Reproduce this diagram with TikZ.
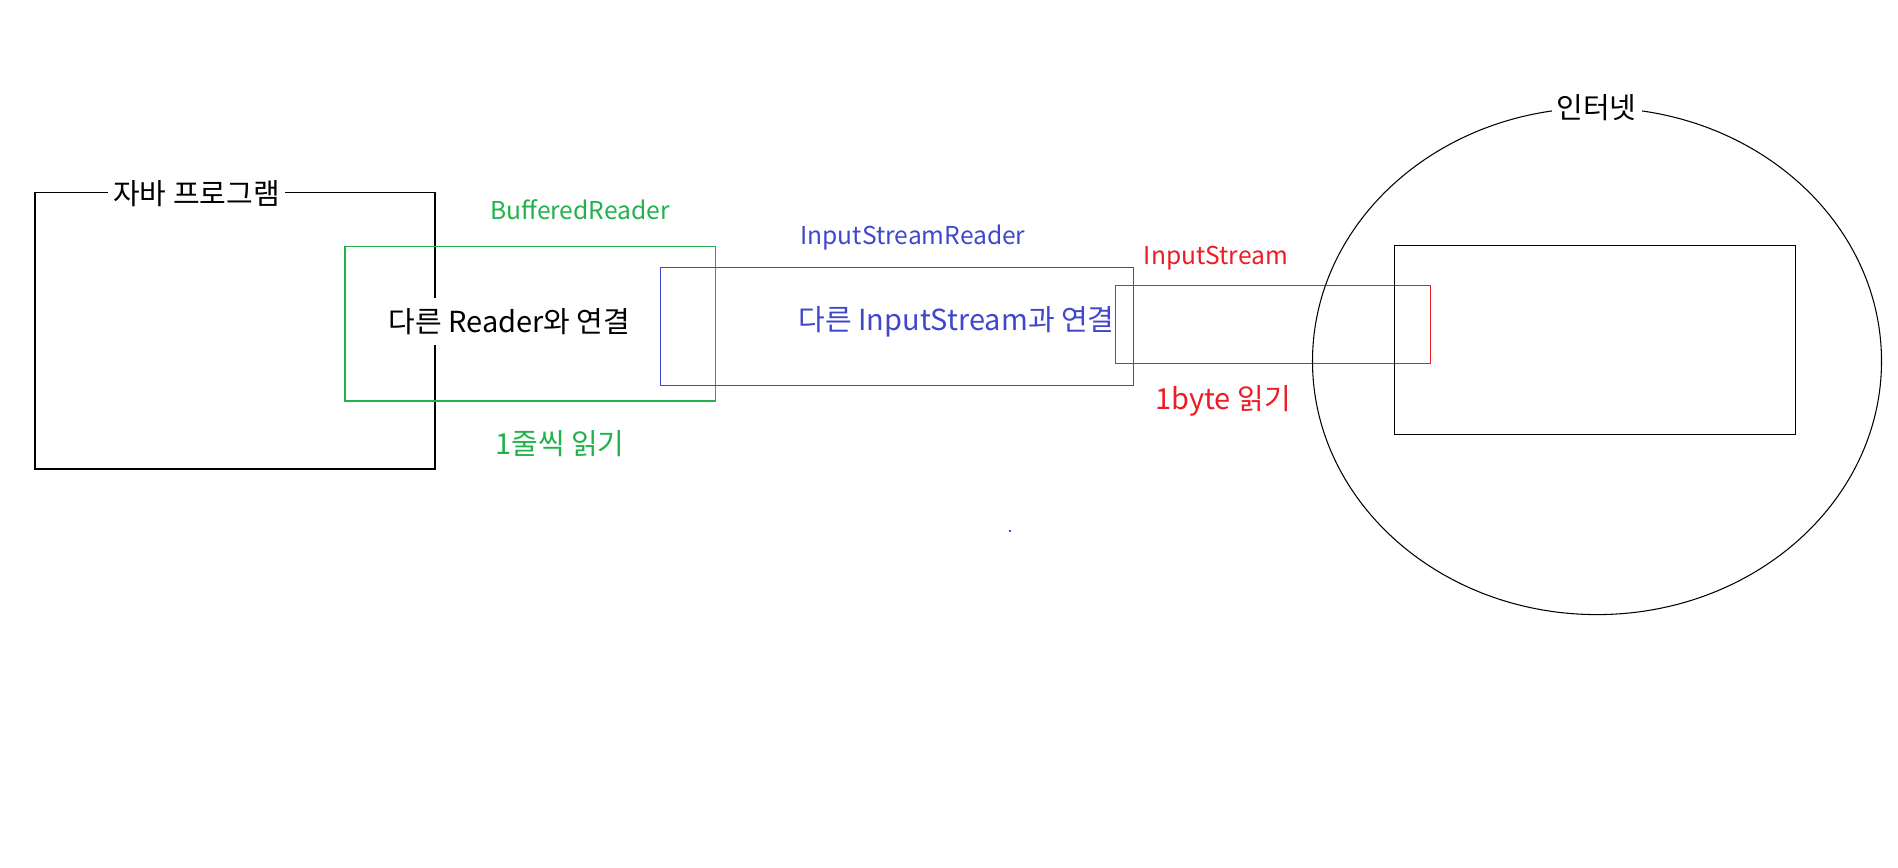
\documentclass[tikz,border=0pt]{standalone}
\usepackage{fontspec}
\setmainfont{Noto Sans CJK KR}
\usetikzlibrary{shapes.geometric}

\definecolor{rdgreen}{HTML}{22B14C}
\definecolor{rdblue}{HTML}{3F48CC}
\definecolor{rdred}{HTML}{ED1C24}

\begin{document}
\begin{tikzpicture}[line width=0.6pt,
                box/.style={rectangle,draw,inner sep=0pt},
                lbl/.style={inner sep=0pt,font=\fontsize{14}{17}\selectfont},
                hlbl/.style={inner sep=0pt,font=\fontsize{16.5}{20}\selectfont},
                gap/.style={hlbl,fill=white,inner xsep=0.1cm}]
            \useasboundingbox (0,0) rectangle (37.96,-17.36);

            % java program
            \node[box, minimum width=8cm, minimum height=5.53cm] (java) at (4.70,-6.615) {};
            \node[gap] (javat) at (3.93,-3.87) {자바 프로그램};

            % readers and streams
            \node[box, draw=rdgreen, minimum width=7.41cm, minimum height=3.094cm] (buf) at (10.605,-6.473) {};
            \node[box, draw=rdblue, minimum width=9.46cm, minimum height=2.358cm] (isr) at (17.94,-6.525) {};
            \node[box, draw=rdred, minimum width=6.30cm, minimum height=1.556cm] (is) at (25.46,-6.486) {};

            % internet
            \node[ellipse, draw, inner sep=0pt, minimum width=11.38cm, minimum height=10.136cm] (net) at (31.94,-7.224) {};
            \node[box, minimum width=8.02cm, minimum height=3.778cm] (srv) at (31.90,-6.797) {};
            \node[gap] (nett) at (31.93,-2.15) {인터넷};

            \node[lbl, text=rdgreen] (buft) at (11.60,-4.20) {BufferedReader};
            \node[gap, inner ysep=0.2cm] (bufc) at (10.19,-6.43) {다른 Reader와 연결};
            \node[hlbl, text=rdgreen] (bufr) at (11.20,-8.88) {1줄씩 읽기};

            \node[lbl, text=rdblue] (isrt) at (18.26,-4.76) {InputStreamReader};
            \node[hlbl, text=rdblue] (isrc) at (19.13,-6.44) {다른 InputStream과 연결};

            \node[lbl, text=rdred] (ist) at (24.32,-5.16) {InputStream};
            \node[hlbl, text=rdred] (isr1) at (24.46,-8.02) {1byte 읽기};

            \node[fill=rdblue, inner sep=0pt, minimum size=0.04cm] (dot) at (20.20,-10.62) {};

\end{tikzpicture}
\end{document}
